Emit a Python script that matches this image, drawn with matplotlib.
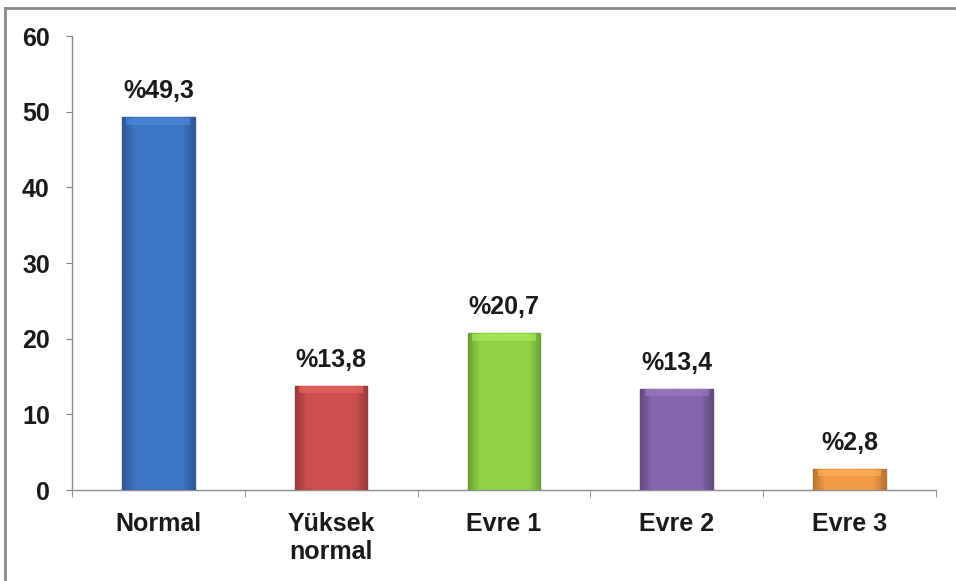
import numpy as np
import matplotlib.pyplot as plt
from matplotlib.colors import LinearSegmentedColormap, to_rgb
from matplotlib.lines import Line2D

categories = ["Normal", "Yüksek\nnormal", "Evre 1", "Evre 2", "Evre 3"]
values = [49.3, 13.8, 20.7, 13.4, 2.8]
labels = ["%49,3", "%13,8", "%20,7", "%13,4", "%2,8"]
colors = ["#3d74c4", "#cb4f4c", "#8fd447", "#8565ab", "#f39a45"]

plt.rcParams['font.family'] = ['Liberation Sans', 'DejaVu Sans']

fig = plt.figure(figsize=(9.56, 5.81), dpi=100)
ax = fig.add_axes([0.0753, 0.1566, 0.9037, 0.7814])

x = np.arange(len(categories))
bars = ax.bar(x, values, width=0.42, color=colors, zorder=2)

# soft bevel shading on each bar
for b, c in zip(bars, colors):
    r, g, bl = to_rgb(c)
    dark = (r * 0.75, g * 0.75, bl * 0.75)
    light = tuple(min(1, v * 1.08 + 0.06) for v in (r, g, bl))
    cmap = LinearSegmentedColormap.from_list("s", [dark, c, c, c, c, c, dark])
    x0, y0 = b.get_x(), b.get_y()
    w, h = b.get_width(), b.get_height()
    grad = np.linspace(0, 1, 200).reshape(1, -1)
    im = ax.imshow(grad, cmap=cmap, extent=[x0, x0 + w, y0, y0 + h],
                   aspect='auto', zorder=3)
    im.set_clip_path(b)
    cap = min(h * 0.4, 1.0)
    ax.fill_between([x0 + w * 0.06, x0 + w * 0.94], y0 + h - cap, y0 + h - cap * 0.1,
                    color=light, alpha=0.6, zorder=4, linewidth=0)
    b.set_edgecolor(dark)
    b.set_linewidth(1)

for xi, v, lab in zip(x, values, labels):
    ax.annotate(lab, (xi, v), xytext=(0, 10), textcoords='offset points',
                ha='center', va='bottom', fontsize=18, fontweight='bold', color='#1a1a1a')

ax.set_xlim(-0.5, len(categories) - 0.5)
ax.set_ylim(0, 60)
ax.set_yticks(np.arange(0, 61, 10))
ax.set_xticks(x)
ax.set_xticklabels(categories, fontsize=18, fontweight='bold', color='#1a1a1a', va='top')
ax.set_xticks(np.arange(-0.5, len(categories), 1), minor=True)
ax.tick_params(axis='x', which='major', length=0, pad=16)
ax.tick_params(axis='x', which='minor', length=5, color='#808080', direction='out')
ax.tick_params(axis='y', length=4, color='#808080', labelsize=18, pad=12)
for t in ax.get_yticklabels():
    t.set_fontweight('bold')
    t.set_color('#1a1a1a')

for s in ['top', 'right']:
    ax.spines[s].set_visible(False)
for s in ['left', 'bottom']:
    ax.spines[s].set_color('#8c8c8c')
    ax.spines[s].set_linewidth(1)

# frame lines of the picture (top and left)
fig.add_artist(Line2D([0.0055, 1], [0.987, 0.987], color='#8a8a8a', lw=2, transform=fig.transFigure))
fig.add_artist(Line2D([0.0055, 0.0055], [0, 0.987], color='#8a8a8a', lw=2, transform=fig.transFigure))

fig.savefig("out.png", dpi=100)
